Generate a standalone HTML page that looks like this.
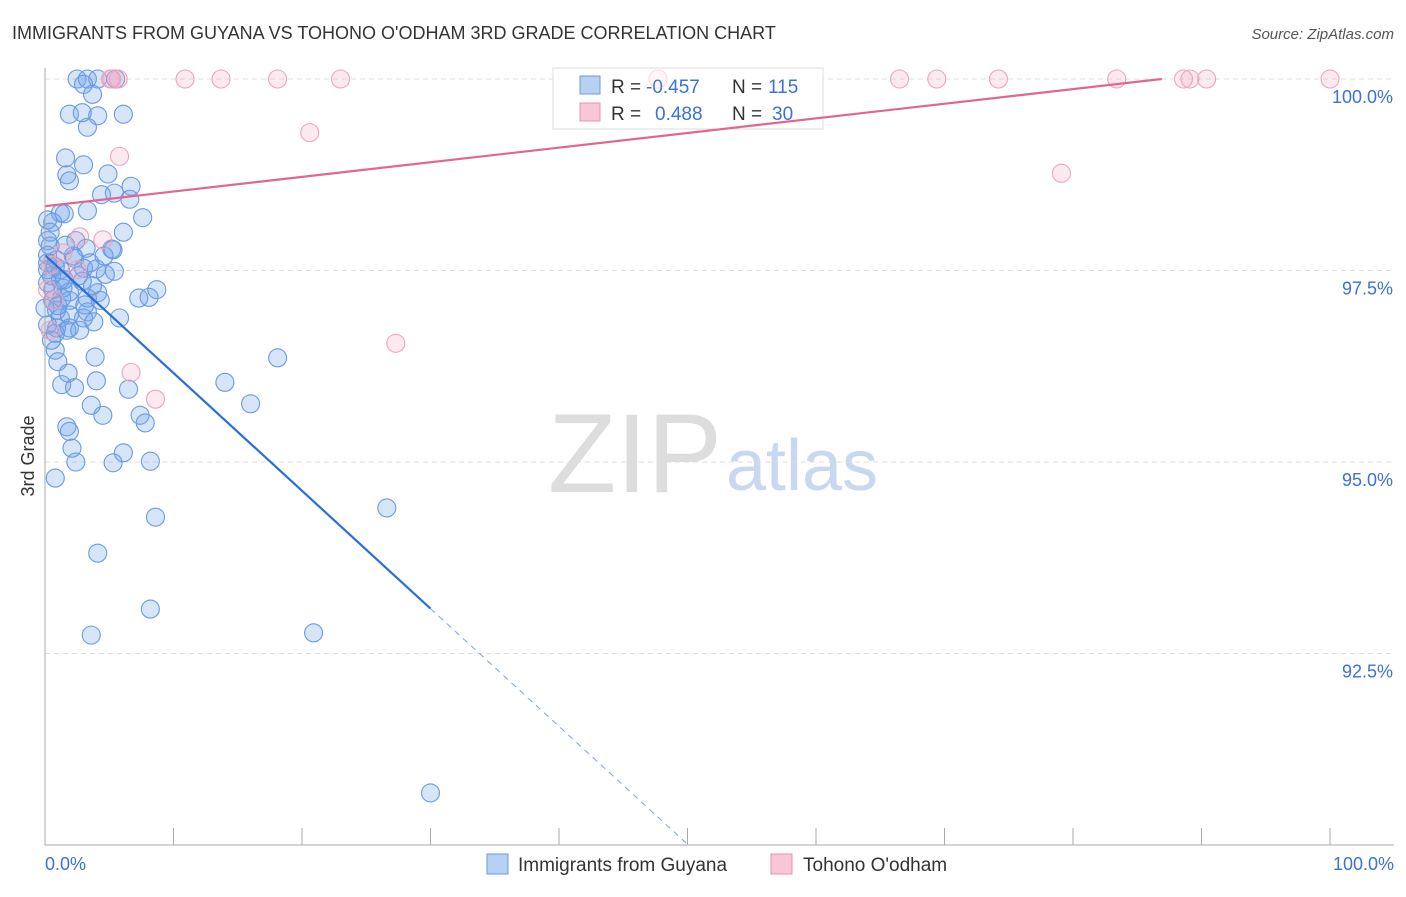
<!DOCTYPE html>
<html><head><meta charset="utf-8"><style>
body{margin:0;background:#fff;font-family:"Liberation Sans",sans-serif;}
svg text{font-family:"Liberation Sans",sans-serif;}
</style></head><body>
<svg id="chart" width="1406" height="892">
<text x="12" y="39" font-size="18" fill="#333">IMMIGRANTS FROM GUYANA VS TOHONO O'ODHAM 3RD GRADE CORRELATION CHART</text>
<text x="1394" y="39" font-size="15" fill="#555" font-style="italic" text-anchor="end">Source: ZipAtlas.com</text>
<g><text x="635" y="492" font-size="112" font-family="Liberation Serif" fill="#ddd" text-anchor="middle">ZIP</text><text x="802" y="490" font-size="72" fill="#c8d8f0" text-anchor="middle">atlas</text></g>
<text transform="translate(34,456) rotate(-90)" font-size="18" fill="#333" text-anchor="middle">3rd Grade</text>
<g id="grid"></g>
<g>
<rect x="553" y="68" width="270" height="61" fill="#fff" stroke="#ddd"/>
<rect x="580" y="76" width="20" height="18" fill="#b8d0f4" stroke="#6b9ae0"/>
<text x="611" y="93" font-size="19" fill="#333">R = </text><text x="646" y="93" font-size="19" fill="#3a72d8">-0.457</text>
<text x="732" y="93" font-size="19" fill="#333">N = </text><text x="768" y="93" font-size="19" fill="#3a72d8">115</text>
<rect x="580" y="103" width="20" height="18" fill="#f9c6d6" stroke="#e892b0"/>
<text x="611" y="120" font-size="19" fill="#333">R = </text><text x="655" y="120" font-size="19" fill="#3a72d8">0.488</text>
<text x="732" y="120" font-size="19" fill="#333">N = </text><text x="772" y="120" font-size="19" fill="#3a72d8">30</text>
</g>
<g id="marks"></g><g id="lines"></g>
<line x1="45" y1="68" x2="45" y2="845" stroke="#aaa"/>
<line x1="45" y1="845" x2="1394" y2="845" stroke="#aaa"/>
<text x="45" y="870" font-size="18" fill="#3a72d8">0.0%</text>
<text x="1394" y="870" font-size="18" fill="#3a72d8" text-anchor="end">100.0%</text>
<g><rect x="487" y="854" width="21" height="20" fill="#b8d0f4" stroke="#6b9ae0"/><text x="518" y="871" font-size="19" fill="#333">Immigrants from Guyana</text></g>
<g><rect x="771" y="854" width="21" height="20" fill="#f9c6d6" stroke="#e892b0"/><text x="803" y="871" font-size="19" fill="#333">Tohono O'odham</text></g>
</svg>
<script>
const blueX=[2.5,3.3,4.1,5.5,3.0,3.7,1.9,2.9,4.1,6.1,3.3,1.6,3.0,1.7,1.9,4.9,4.4,5.4,6.7,6.6,3.3,1.2,1.5,7.6,0.2,0.6,0.4,6.1,0.2,2.4,3.2,4.6,5.2,5.3,0.2,0.9,2.2,2.3,1.2,3.0,4.0,4.7,5.4,0.5,1.5,2.9,0.2,0.6,1.4,1.9,4.1,7.3,8.1,8.7,0.6,3.3,0.9,1.2,3.3,3.0,1.9,3.8,5.8,0.9,1.7,1.9,0.8,0.8,3.9,1.0,18.1,1.8,4.0,14.0,1.3,2.3,6.5,16.0,3.6,4.5,7.4,7.8,1.7,1.9,2.1,2.4,5.3,6.1,8.2,0.8,26.6,8.6,4.1,8.2,3.6,20.9,30.0,0.2,0.4,0.2,0.8,1.3,2.6,3.5,1.6,1.0,0.0,2.7,1.2,1.9,3.7,3.1,0.5,0.2,4.3];
const blueY=[100,100,100,100,99.93,99.80,99.54,99.56,99.52,99.54,99.37,98.97,98.88,98.75,98.67,98.76,98.49,98.51,98.60,98.43,98.28,98.25,98.24,98.19,98.16,98.13,98.00,98.00,97.89,97.89,97.79,97.69,97.78,97.77,97.70,97.64,97.69,97.66,97.51,97.53,97.52,97.45,97.49,97.43,97.38,97.36,97.34,97.25,97.27,97.22,97.21,97.14,97.15,97.25,97.11,97.14,96.98,96.88,96.96,96.88,96.92,96.83,96.88,96.75,96.72,96.75,96.68,96.46,96.37,96.31,96.36,96.16,96.06,96.04,96.01,95.97,95.95,95.76,95.74,95.61,95.61,95.51,95.46,95.40,95.18,95.00,94.99,95.12,95.01,94.79,94.40,94.28,93.81,93.08,92.74,92.77,90.68,97.60,97.82,97.51,97.55,97.14,97.43,97.60,97.83,97.04,97.01,96.72,97.38,97.11,97.30,97.05,96.59,96.79,97.11];
const pinkX=[5.2,5.7,5.1,10.9,13.7,18.1,23.0,47.7,66.5,69.4,74.2,83.4,88.6,89.1,90.4,100,20.6,5.8,79.1,2.7,4.5,1.4,0.4,2.5,0.7,0.4,27.3,6.7,8.6,0.2];
const pinkY=[100,100,100,100,100,100,100,100,100,100,100,100,100,100,100,100,99.30,98.99,98.77,97.94,97.90,97.73,97.57,97.51,97.11,96.72,96.55,96.17,95.82,97.25];
const yTicks=[100,97.5,95,92.5];
const yTickLabels=["100.0%","97.5%","95.0%","92.5%"];
const xTicks=[0,10,20,30,40,50,60,70,80,90,100];
const blueTrend=[97.7,-0.1538];
const pinkTrend=[98.34,0.0191];
const NS="http://www.w3.org/2000/svg";
const sx=v=>45+v*12.85, sy=v=>79+(100-v)*76.6;
function mk(t,a,p){const e=document.createElementNS(NS,t);for(const k in a)e.setAttribute(k,a[k]);p.appendChild(e);return e;}
const grid=document.getElementById('grid'),marks=document.getElementById('marks'),lines=document.getElementById('lines');
yTicks.forEach((v,i)=>{
 const l=mk('line',{x1:45,x2:1394,y1:sy(v),y2:sy(v),stroke:'#ddd','stroke-dasharray':'5,4'},grid);
 
 
 const t=mk('text',{x:1393,y:sy(v)+24,'font-size':18,fill:'#3a72d8','text-anchor':'end'},grid);
 t.textContent=yTickLabels[i];
 
 
});
xTicks.forEach(v=>{
 const l=mk('line',{x1:sx(v),x2:sx(v),y1:828,y2:845,stroke:'#aaa'},grid);
 
 
});
blueX.forEach((x,i)=>{
 const c=mk('circle',{cx:sx(x),cy:sy(blueY[i]),r:9,fill:'rgba(110,160,235,0.28)',stroke:'#6a9ae0','stroke-width':1.1},marks);
 
 
});
pinkX.forEach((x,i)=>{
 const c=mk('circle',{cx:sx(x),cy:sy(pinkY[i]),r:9,fill:'rgba(245,160,190,0.22)',stroke:'#eea3bd','stroke-width':1.1,opacity:(x>40&&x<60)?0.4:1},marks);
 
 
});
const bf=x=>blueTrend[0]+blueTrend[1]*x;
let l1=mk('line',{x1:sx(0),y1:sy(bf(0)),x2:sx(30),y2:sy(bf(30)),stroke:'#2a6fd8','stroke-width':2.2},lines);


const xe=(90-blueTrend[0])/blueTrend[1];
let l2=mk('line',{x1:sx(30),y1:sy(bf(30)),x2:sx(xe),y2:sy(90),stroke:'#7aa4e4','stroke-width':1,'stroke-dasharray':'6,5'},lines);


const pf=x=>pinkTrend[0]+pinkTrend[1]*x;
const pe=Math.min(100,(100-pinkTrend[0])/pinkTrend[1]);
let l3=mk('line',{x1:sx(0),y1:sy(pf(0)),x2:sx(pe),y2:sy(pf(pe)),stroke:'#e2668f','stroke-width':2.2},lines);


</script>
</body></html>
